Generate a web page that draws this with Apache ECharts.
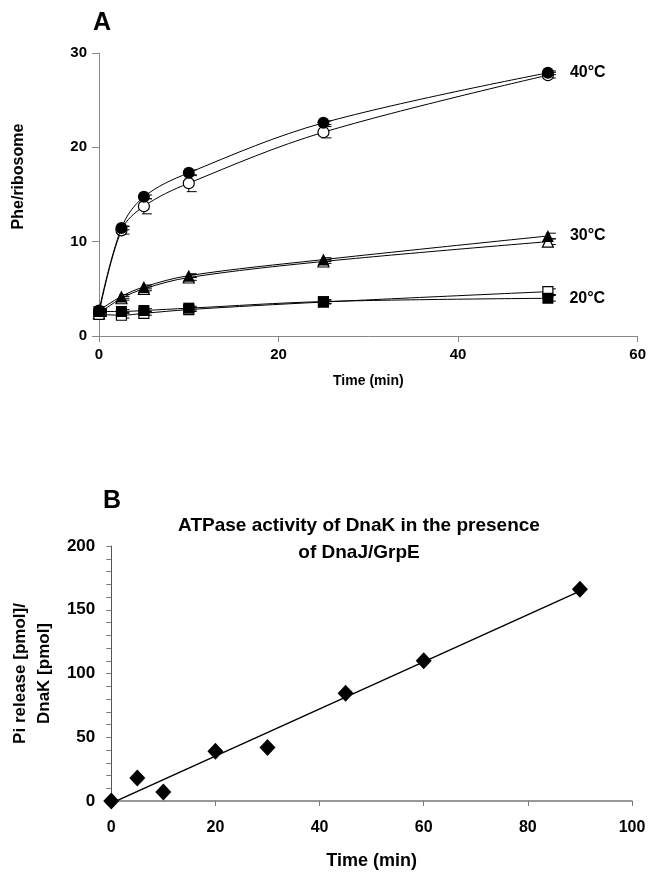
<!DOCTYPE html>
<html>
<head>
<meta charset="utf-8">
<script src="https://cdn.jsdelivr.net/npm/echarts@6/dist/echarts.min.js"></script>
<style>
html,body{margin:0;padding:0;background:#fff;}
#chart{width:649px;height:872px;}
</style>
</head>
<body>
<div id="chart"></div>
<script>
// ---------- Panel A data ----------
var timesA = [0, 2.5, 5, 10, 25, 50];
var c40Filled = [2.7, 11.45, 14.75, 17.3, 22.6, 27.9];
var c40Open   = [2.4, 11.2, 13.75, 16.2, 21.6, 27.65];
var c30Filled = [2.7, 4.2, 5.2, 6.4, 8.1, 10.6];
var c30Open   = [2.4, 4.0, 5.0, 6.2, 7.9, 10.0];
var c20Filled = [2.6, 2.6, 2.7, 2.95, 3.65, 4.0];
var c20Open   = [2.3, 2.2, 2.4, 2.8, 3.6, 4.7];
var err40Filled = [0.2, 0.2, 0.2, 0.3, 0.2, 0.2];
var err40Open   = [0.3, 0.4, 0.8, 0.9, 0.6, 0.3];
var err30Filled = [0.2, 0.2, 0.2, 0.2, 0.2, 0.3];
var err30Open   = [0.2, 0.2, 0.2, 0.3, 0.2, 0.3];
var err20Filled = [0.2, 0.2, 0.2, 0.2, 0.2, 0.3];
var err20Open   = [0.2, 0.3, 0.2, 0.2, 0.2, 0.3];
var tempLabels = ['40°C', '30°C', '20°C'];
var xTicksA = [0, 20, 40, 60];
var yTicksA = [0, 10, 20, 30];

// ---------- Panel B data ----------
var timesB = [0, 5, 10, 20, 30, 45, 60, 90];
var piRelease = [0, 18, 7, 39, 42, 84.5, 110, 166];
var xTicksB = [0, 20, 40, 60, 80, 100];
var yTicksB = [0, 50, 100, 150, 200];

// linear regression trendline for panel B (from the data)
function regression(xs, ys) {
  var n = xs.length, mx = 0, my = 0;
  for (var i = 0; i < n; i++) { mx += xs[i]; my += ys[i]; }
  mx /= n; my /= n;
  var sxx = 0, sxy = 0;
  for (var j = 0; j < n; j++) { sxx += (xs[j]-mx)*(xs[j]-mx); sxy += (xs[j]-mx)*(ys[j]-my); }
  var b = sxy / sxx;
  return { slope: b, intercept: my - b * mx };
}
var reg = regression(timesB, piRelease);
var trendX = [timesB[0], timesB[timesB.length-1]];
var trend = trendX.map(function (x) { return [x, reg.intercept + reg.slope * x]; });

var FONT = '"Liberation Sans", Arial, Helvetica, sans-serif';

function pairs(xs, ys, label) {
  return xs.map(function (x, i) {
    var item = { value: [x, ys[i]] };
    if (label && i === xs.length - 1) {
      item.label = {
        show: true, position: 'right', distance: 16, formatter: label,
        color: '#000', fontFamily: FONT, fontWeight: 'bold', fontSize: 16
      };
    }
    return item;
  });
}
function errData(xs, ys, es) {
  return xs.map(function (x, i) { return [x, ys[i], es[i]]; });
}
function errSeries(xs, ys, es) {
  return {
    type: 'custom', xAxisIndex: 0, yAxisIndex: 0, z: 1,
    data: errData(xs, ys, es),
    renderItem: function (params, api) {
      var x = api.value(0), y = api.value(1), e = api.value(2);
      var lo = api.coord([x, y - e]), hi = api.coord([x, y + e]);
      var style = { stroke: '#000', lineWidth: 1 };
      return {
        type: 'group',
        children: [
          { type: 'line', shape: { x1: lo[0], y1: lo[1], x2: hi[0], y2: hi[1] }, style: style },
          { type: 'line', shape: { x1: lo[0] - 2, y1: lo[1], x2: lo[0] + 8, y2: lo[1] }, style: style },
          { type: 'line', shape: { x1: hi[0] - 2, y1: hi[1], x2: hi[0] + 8, y2: hi[1] }, style: style }
        ]
      };
    }
  };
}
function lineSeries(ys, symbol, filled, label, size) {
  return {
    type: 'line', xAxisIndex: 0, yAxisIndex: 0,
    data: pairs(timesA, ys, label),
    smooth: 0.35,
    symbol: symbol, symbolSize: size,
    showAllSymbol: true,
    z: filled ? 4 : 3,
    lineStyle: { color: '#000', width: 1 },
    itemStyle: { color: filled ? '#000' : '#fff', borderColor: '#000', borderWidth: filled ? 0 : 1.2, opacity: 1 }
  };
}

var labelStyle = { color: '#000', fontFamily: FONT, fontWeight: 'bold' };

var option = {
  animation: false,
  backgroundColor: '#fff',
  textStyle: { fontFamily: FONT },
  title: [
    { text: 'A', left: 88, top: 6, textStyle: { fontFamily: FONT, fontWeight: 'bold', fontSize: 25, color: '#000' } },
    { text: 'B', left: 98, top: 484, textStyle: { fontFamily: FONT, fontWeight: 'bold', fontSize: 25, color: '#000' } },
    { text: 'ATPase activity of DnaK in the presence\nof DnaJ/GrpE', left: 354, top: 507, textAlign: 'center',
      textStyle: { fontFamily: FONT, fontWeight: 'bold', fontSize: 19, lineHeight: 27, color: '#000', align: 'center' } }
  ],
  grid: [
    { left: 99, right: 10, top: 53, bottom: 536, containLabel: false },
    { left: 107, right: 17, top: 546, bottom: 71, containLabel: false }
  ],
  xAxis: [
    {
      gridIndex: 0, type: 'value', min: xTicksA[0], max: xTicksA[xTicksA.length-1], interval: xTicksA[1]-xTicksA[0],
      name: 'Time (min)', nameLocation: 'middle', nameGap: 38,
      nameTextStyle: { color: '#000', fontFamily: FONT, fontWeight: 'bold', fontSize: 14 },
      axisLine: { show: true, lineStyle: { color: '#888', width: 1 } },
      axisTick: { show: true, length: 6, lineStyle: { color: '#888' } },
      axisLabel: Object.assign({ fontSize: 15, margin: 11 }, labelStyle),
      splitLine: { show: false }
    },
    {
      gridIndex: 1, type: 'value', min: xTicksB[0], max: xTicksB[xTicksB.length-1], interval: xTicksB[1]-xTicksB[0],
      name: 'Time (min)', nameLocation: 'middle', nameGap: 51,
      nameTextStyle: { color: '#000', fontFamily: FONT, fontWeight: 'bold', fontSize: 18 },
      axisLine: { show: true, lineStyle: { color: '#777', width: 1.5 } },
      axisTick: { show: true, length: 5, lineStyle: { color: '#777' } },
      axisLabel: Object.assign({ fontSize: 16, margin: 19 }, labelStyle),
      splitLine: { show: false }
    }
  ],
  yAxis: [
    {
      gridIndex: 0, type: 'value', min: yTicksA[0], max: yTicksA[yTicksA.length-1], interval: yTicksA[1]-yTicksA[0],
      name: 'Phe/ribosome', nameLocation: 'middle', nameGap: 72, nameRotate: 90,
      nameTextStyle: { color: '#000', fontFamily: FONT, fontWeight: 'bold', fontSize: 16, padding: [0, 0, 0, 36] },
      axisLine: { show: true, lineStyle: { color: '#888', width: 1 } },
      axisTick: { show: true, length: 7, lineStyle: { color: '#888' } },
      axisLabel: Object.assign({ fontSize: 15, margin: 12 }, labelStyle),
      splitLine: { show: false }
    },
    {
      gridIndex: 1, type: 'value', min: yTicksB[0], max: yTicksB[yTicksB.length-1], interval: 10,
      name: 'Pi release [pmol]/\nDnaK [pmol]', nameLocation: 'middle', nameGap: 48, nameRotate: 90,
      nameTextStyle: { color: '#000', fontFamily: FONT, fontWeight: 'bold', fontSize: 17, lineHeight: 24, align: 'center' },
      axisLine: { show: true, lineStyle: { color: '#555', width: 1 } },
      axisTick: { show: true, length: 5, lineStyle: { color: '#777' } },
      axisLabel: Object.assign({
        fontSize: 17, margin: 16,
        formatter: function (v) { return yTicksB.indexOf(v) >= 0 ? String(v) : ''; }
      }, labelStyle),
      splitLine: { show: false }
    }
  ],
  series: [
    errSeries(timesA, c40Open, err40Open),
    errSeries(timesA, c40Filled, err40Filled),
    errSeries(timesA, c30Open, err30Open),
    errSeries(timesA, c30Filled, err30Filled),
    errSeries(timesA, c20Open, err20Open),
    errSeries(timesA, c20Filled, err20Filled),
    lineSeries(c40Open, 'circle', false, null, 11),
    lineSeries(c40Filled, 'circle', true, tempLabels[0], 12),
    lineSeries(c30Open, 'triangle', false, null, 11),
    lineSeries(c30Filled, 'triangle', true, tempLabels[1], 12),
    lineSeries(c20Open, 'rect', false, null, 10),
    lineSeries(c20Filled, 'rect', true, tempLabels[2], 11),
    {
      type: 'line', xAxisIndex: 1, yAxisIndex: 1,
      data: trend, symbol: 'none', z: 2,
      lineStyle: { color: '#000', width: 1.4 }
    },
    {
      type: 'scatter', xAxisIndex: 1, yAxisIndex: 1,
      data: timesB.map(function (x, i) { return [x, piRelease[i]]; }),
      symbol: 'diamond', symbolSize: [16, 17], z: 3,
      itemStyle: { color: '#000', opacity: 1 }
    }
  ]
};

var chart = echarts.init(document.getElementById('chart'), null, { renderer: 'canvas' });
chart.setOption(option);
</script>
</body>
</html>
